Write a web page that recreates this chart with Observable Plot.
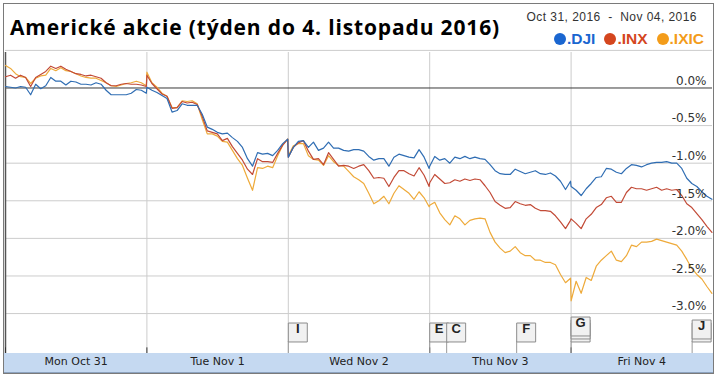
<!DOCTYPE html>
<html><head><meta charset="utf-8">
<script src="https://cdn.jsdelivr.net/npm/d3@7"></script>
<script src="https://cdn.jsdelivr.net/npm/@observablehq/plot@0.6"></script>
<style>
body{margin:0;background:#fff;}
#wrap{position:relative;width:718px;height:376px;overflow:hidden;background:#fff;}
#frame{position:absolute;left:3px;top:3px;width:711px;height:371px;border:1px solid #7a7a7a;box-sizing:border-box;}
#title{position:absolute;left:10px;top:13px;font:bold 21px "Open Sans",Lato,sans-serif;line-height:29px;color:#000;white-space:nowrap;}
#range{position:absolute;right:21px;top:10px;font:12px "Liberation Sans",Arial,sans-serif;letter-spacing:0.45px;color:#333;white-space:pre;}
#legend{position:absolute;right:14px;top:30px;font:bold 15.5px "Liberation Sans",Arial,sans-serif;white-space:nowrap;}
#legend span{margin-left:9px;}
#legend i{display:inline-block;width:12px;height:12px;border-radius:50%;margin-right:1px;vertical-align:-1px;}
#band{position:absolute;left:4px;top:353px;width:709px;height:19px;background:#c5d9f1;border-bottom:1px solid #8da3bf;}
#chart{position:absolute;left:0;top:52px;}
</style></head>
<body>
<div id="wrap">
  <div id="band"></div>
  <div id="chart"></div>
  <div id="frame"></div>
  <div id="title"></div>
  <div id="range"></div>
  <div id="legend"></div>
</div>
<script>
const titleText = "Americké akcie (týden do 4. listopadu 2016)";
const rangeText = "Oct 31, 2016  -  Nov 04, 2016";
const dayLabels = ["Mon Oct 31", "Tue Nov 1", "Wed Nov 2", "Thu Nov 3", "Fri Nov 4"];
const seriesNames = [".DJI", ".INX", ".IXIC"];
const legendColors = ["#1a66d0", "#d4461e", "#f39c1a"];
const lineColors = ["#2f6db3", "#c24a36", "#eeaa3a"];
const yTicks = [0, -0.5, -1.0, -1.5, -2.0, -2.5, -3.0];
const yGrid = [0.5, -0.5, -1.0, -1.5, -2.0, -2.5, -3.0];
const pointsPerDay = 29;

// % change vs previous close, sampled evenly through each trading session
const dji = [
  0.02,0.01,0.00,0.02,0.01,-0.09,0.05,-0.01,0.03,0.14,0.09,0.09,0.04,0.09,0.08,0.05,0.05,0.04,0.07,0.05,-0.03,-0.09,-0.09,-0.09,-0.09,-0.07,-0.02,-0.03,-0.07,
  0.01,-0.03,-0.06,-0.10,-0.14,-0.32,-0.30,-0.21,-0.23,-0.23,-0.23,-0.35,-0.52,-0.55,-0.59,-0.61,-0.60,-0.66,-0.71,-0.79,-0.94,-1.04,-0.86,-0.88,-0.87,-0.90,-0.83,-0.74,-0.68,
  -0.92,-0.79,-0.71,-0.70,-0.79,-0.72,-0.83,-0.80,-0.72,-0.80,-0.80,-0.83,-0.84,-0.82,-0.82,-0.84,-0.91,-0.96,-0.94,-0.94,-1.04,-0.92,-0.88,-0.90,-0.92,-0.93,-0.82,-0.92,-1.07,
  -1.04,-0.91,-0.96,-0.94,-1.00,-0.92,-0.94,-0.91,-0.94,-0.92,-0.94,-0.95,-1.02,-1.10,-1.14,-1.15,-1.15,-1.08,-1.11,-1.14,-1.12,-1.10,-1.14,-1.15,-1.13,-1.17,-1.24,-1.35,-1.24,
  -1.31,-1.36,-1.43,-1.34,-1.27,-1.19,-1.18,-1.07,-1.08,-1.12,-1.14,-1.07,-1.02,-1.03,-1.05,-1.02,-1.00,-0.99,-0.99,-0.98,-1.00,-1.00,-1.07,-1.20,-1.27,-1.31,-1.38,-1.44,-1.48
];
const inx = [
  0.15,0.17,0.13,0.17,0.14,0.02,0.14,0.18,0.22,0.29,0.26,0.29,0.25,0.22,0.19,0.18,0.16,0.17,0.15,0.13,0.07,0.03,0.03,0.05,0.06,0.05,0.05,0.04,0.02,
  0.17,0.06,-0.01,-0.08,-0.11,-0.27,-0.26,-0.18,-0.20,-0.19,-0.22,-0.38,-0.57,-0.59,-0.61,-0.70,-0.67,-0.78,-0.87,-0.96,-1.08,-1.15,-0.94,-0.98,-0.98,-0.99,-0.87,-0.76,-0.68,
  -0.92,-0.79,-0.73,-0.70,-0.84,-0.95,-0.94,-1.02,-0.86,-0.95,-1.04,-1.03,-1.04,-1.07,-1.04,-1.02,-1.10,-1.20,-1.19,-1.20,-1.31,-1.19,-1.10,-1.10,-1.14,-1.17,-1.06,-1.16,-1.31,
  -1.26,-1.15,-1.21,-1.27,-1.26,-1.22,-1.24,-1.21,-1.23,-1.21,-1.22,-1.30,-1.39,-1.51,-1.56,-1.60,-1.59,-1.51,-1.54,-1.56,-1.55,-1.60,-1.63,-1.63,-1.64,-1.70,-1.78,-1.87,-1.76,
  -1.74,-1.80,-1.87,-1.74,-1.68,-1.59,-1.55,-1.46,-1.44,-1.52,-1.52,-1.39,-1.32,-1.34,-1.34,-1.36,-1.34,-1.32,-1.36,-1.34,-1.36,-1.35,-1.43,-1.54,-1.59,-1.67,-1.75,-1.84,-1.92
];
const ixic = [
  0.30,0.26,0.19,0.15,0.14,0.06,0.13,0.16,0.17,0.26,0.23,0.27,0.23,0.22,0.19,0.16,0.14,0.13,0.13,0.10,0.07,0.03,0.02,0.04,0.06,0.07,0.09,0.07,0.03,
  0.21,0.07,0.01,-0.07,-0.11,-0.26,-0.26,-0.17,-0.18,-0.17,-0.21,-0.42,-0.61,-0.61,-0.64,-0.71,-0.72,-0.83,-0.94,-1.03,-1.20,-1.36,-1.06,-1.07,-1.04,-1.06,-0.90,-0.76,-0.68,
  -0.90,-0.77,-0.74,-0.74,-0.90,-0.95,-0.96,-1.03,-0.90,-0.98,-1.03,-1.04,-1.11,-1.18,-1.22,-1.27,-1.40,-1.54,-1.50,-1.44,-1.54,-1.40,-1.30,-1.35,-1.40,-1.48,-1.38,-1.46,-1.58,
  -1.56,-1.52,-1.66,-1.75,-1.82,-1.70,-1.74,-1.82,-1.76,-1.74,-1.73,-1.74,-1.92,-2.05,-2.13,-2.19,-2.17,-2.11,-2.19,-2.23,-2.23,-2.29,-2.29,-2.32,-2.32,-2.35,-2.48,-2.59,-2.53,
  -2.83,-2.57,-2.73,-2.52,-2.56,-2.37,-2.29,-2.23,-2.17,-2.29,-2.31,-2.23,-2.09,-2.11,-2.05,-2.05,-2.04,-2.01,-2.03,-2.05,-2.07,-2.09,-2.17,-2.28,-2.40,-2.48,-2.54,-2.64,-2.73
];

// news flags: time in trading days since Mon open, count of stacked items
const newsLetters = ["I", "E", "C", "F", "G", "J"];
const newsTimes = [2.0, 3.0, 3.12, 3.615, 4.0, 4.856];
const newsCounts = [1, 1, 1, 1, 3, 2];

// ---- build ----
const titleEl = document.getElementById("title");
titleEl.textContent = titleText;
const targetTitleWidth = 490;
const w0 = titleEl.getBoundingClientRect().width;
titleEl.style.letterSpacing = ((targetTitleWidth - w0) / titleText.length).toFixed(3) + "px";

document.getElementById("range").textContent = rangeText;
const leg = document.getElementById("legend");
seriesNames.forEach((n, i) => {
  const s = document.createElement("span");
  s.style.color = legendColors[i];
  s.innerHTML = `<i style="background:${legendColors[i]}"></i>${n}`;
  leg.appendChild(s);
});

const tOf = i => Math.floor(i / pointsPerDay) + (i % pointsPerDay) / (pointsPerDay - 1) * 0.996;
const rows = [];
[[seriesNames[2], ixic], [seriesNames[1], inx], [seriesNames[0], dji]].forEach(([name, vals]) => {
  vals.forEach((v, i) => rows.push({series: name, t: tOf(i), v}));
});
const news = newsLetters.map((l, i) => ({letter: l, t: newsTimes[i], n: newsCounts[i]}));
const maxStack = d3.max(newsCounts);

const yDomain = [-3.531, 0.472];
const yLo = yDomain[0];
const boxDy = -21, stackStep = 3;

const flagBoxes = d3.range(maxStack).map(k =>
  Plot.dot(news.filter(d => d.n > k), {
    x: "t", frameAnchor: "bottom", symbol: "square", r: 10.7,
    dx: 9.5, dy: boxDy - stackStep * k,
    fill: "#f1f1f1", stroke: "#8c8c8c", strokeWidth: 1
  })
);
const flagLetters = d3.range(1, maxStack + 1).map(n =>
  Plot.text(news.filter(d => d.n === n), {
    x: "t", frameAnchor: "bottom", text: "letter",
    dx: 9.5, dy: boxDy - stackStep * (n - 1),
    fontSize: 13, fontWeight: "bold", fill: "#222", fontFamily: "Liberation Sans, Arial, sans-serif"
  })
);

const chart = Plot.plot({
  width: 718, height: 324,
  marginTop: 0, marginBottom: 23, marginLeft: 5, marginRight: 6,
  style: {background: "transparent", fontFamily: "DejaVu Sans, Verdana, sans-serif", overflow: "visible"},
  x: {domain: [0, 5], label: null},
  y: {domain: yDomain, label: null},
  color: {domain: seriesNames, range: lineColors},
  marks: [
    Plot.gridY(yGrid, {stroke: "#cccccc", strokeOpacity: 1}),
    Plot.gridX([1, 2, 3, 4], {stroke: "#cccccc", strokeOpacity: 1}),
    Plot.ruleY([0], {stroke: "#3a3a3a", strokeWidth: 1}),
    Plot.ruleX([0], {stroke: "#555", strokeWidth: 1.5}),
    Plot.ruleX([0, 1, 3, 4], {y1: yLo, y2: yLo + 0.075, stroke: "#333"}),
    Plot.line(rows, {x: "t", y: "v", z: "series", stroke: "series", strokeWidth: 1.2}),
    Plot.ruleX(news, {x: "t", y1: yLo, y2: yLo + 0.16, stroke: "#999"}),
    ...flagBoxes,
    ...flagLetters,
    Plot.axisX([0.5, 1.5, 2.5, 3.5, 4.5], {
      label: null, tickSize: 0, tickPadding: 4, fontSize: 11, fill: "#222",
      tickFormat: d => dayLabels[Math.floor(d)]
    }),
    Plot.axisY(yTicks, {
      label: null, anchor: "right", tickSize: 0, tickPadding: 0, textAnchor: "end",
      dx: -6, dy: -7, fontSize: 12, fill: "#333",
      tickFormat: d => d.toFixed(1) + "%"
    })
  ]
});
document.getElementById("chart").appendChild(chart);
</script>
</body></html>
